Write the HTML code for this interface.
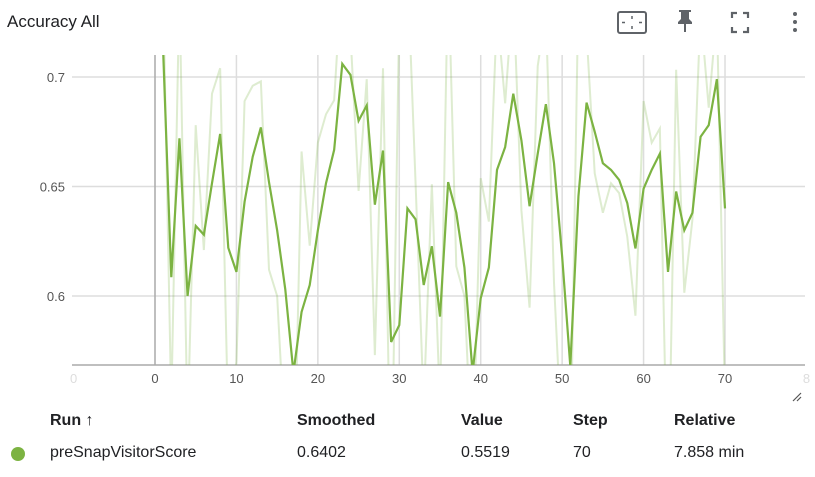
<!DOCTYPE html>
<html style="overflow:hidden;height:477px"><head><meta charset="utf-8"><style>
body{margin:0;width:815px;height:477px;background:#fff;font-family:"Liberation Sans",sans-serif;color:#202124;overflow:hidden;position:relative}
.abs{position:absolute}
.th{position:absolute;top:411px;font-size:16px;font-weight:bold;line-height:20px}
.td{position:absolute;top:443px;font-size:16px;line-height:20px}
</style></head><body>
<div class="abs" style="left:7px;top:12px;font-size:17px;line-height:20px">Accuracy All</div>
<svg class="abs" style="left:0;top:0" width="815" height="45">
<g stroke="#5f6368" fill="none" stroke-width="2"><rect x="618" y="12" width="28" height="21" rx="2"/><path d="M632 16v3M632 26v3M622 22.5h3M639 22.5h3" stroke-width="1.5"/></g>
<g fill="#5f6368"><path d="M679 10h12v2h-2v7l3 3v2h-6v8h-2v-8h-6v-2l3-3v-7h-2z"/></g>
<g stroke="#5f6368" stroke-width="2.2" fill="none"><path d="M732 18v-5h5M743 13h5v5M748 27v5h-5M737 32h-5v-5"/></g>
<g fill="#5f6368"><circle cx="795" cy="14" r="2"/><circle cx="795" cy="22" r="2"/><circle cx="795" cy="30" r="2"/></g>
</svg>
<svg id="chart" class="abs" style="left:0;top:0" width="815" height="400"></svg>
<svg class="abs" style="left:790px;top:390px" width="14" height="14"><path d="M3 11L11 3M7 11L11 7" stroke="#555" stroke-width="1.2"/></svg>
<div class="th" style="left:50px">Run ↑</div>
<div class="th" style="left:297px">Smoothed</div>
<div class="th" style="left:461px">Value</div>
<div class="th" style="left:573px">Step</div>
<div class="th" style="left:674px">Relative</div>
<div class="abs" style="left:11px;top:447px;width:14px;height:14px;border-radius:50%;background:#7cb342"></div>
<div class="td" style="left:50px">preSnapVisitorScore</div>
<div class="td" style="left:297px">0.6402</div>
<div class="td" style="left:461px">0.5519</div>
<div class="td" style="left:573px">70</div>
<div class="td" style="left:674px">7.858 min</div>
<script>
const xTicks=[-10,0,10,20,30,40,50,60,70,80];
const yTicks=[0.6,0.65,0.7];
const yTickLabels=["0.6","0.65","0.7"];
const smoothed=[0.75,0.712,0.6086,0.672,0.600,0.632,0.628,0.6515,0.674,0.622,0.611,0.643,0.6636,0.677,0.652,0.630,0.603,0.565,0.5927,0.605,0.630,0.6515,0.6667,0.706,0.701,0.680,0.687,0.6417,0.6664,0.579,0.5867,0.640,0.635,0.605,0.6227,0.5906,0.652,0.638,0.613,0.565,0.599,0.613,0.6576,0.668,0.6924,0.671,0.641,0.665,0.6876,0.6606,0.618,0.568,0.6455,0.6883,0.675,0.6606,0.6576,0.653,0.6424,0.6217,0.649,0.6576,0.665,0.611,0.6477,0.630,0.638,0.6727,0.678,0.699,0.640];
const raw=[0.75,0.74,0.55,0.74,0.54,0.678,0.621,0.6924,0.704,0.54,0.57,0.689,0.696,0.698,0.612,0.60,0.53,0.50,0.666,0.623,0.670,0.683,0.6894,0.75,0.72,0.648,0.699,0.573,0.704,0.50,0.73,0.75,0.6515,0.55,0.651,0.55,0.75,0.6136,0.60,0.52,0.6538,0.634,0.73,0.688,0.74,0.639,0.5947,0.705,0.73,0.606,0.53,0.52,0.74,0.72,0.656,0.638,0.6515,0.647,0.627,0.591,0.689,0.670,0.6765,0.50,0.7033,0.6015,0.635,0.73,0.686,0.73,0.5519];
const L=72,R=805,T=55,B=365;
const xs=v=>155+(v)*8.143;
const ys=v=>77+(0.7-v)*2190;
const svg=document.getElementById('chart');const NS='http://www.w3.org/2000/svg';
function mk(t,a){const e=document.createElementNS(NS,t);for(const k in a)e.setAttribute(k,a[k]);svg.appendChild(e);return e;}
const cp=mk('clipPath',{id:'cp'});const r=document.createElementNS(NS,'rect');r.setAttribute('x',L);r.setAttribute('y',T);r.setAttribute('width',R-L);r.setAttribute('height',B-T);cp.appendChild(r);
yTicks.forEach((v,i)=>{const g=mk('line',{x1:L,x2:R,y1:ys(v),y2:ys(v),stroke:'#ddd','stroke-width':1.5});


const t=mk('text',{x:65,y:ys(v)+5,'text-anchor':'end','font-size':13,fill:'#555'});t.textContent=yTickLabels[i];

});
xTicks.forEach(v=>{const x=xs(v);const inR=x>L+3&&x<R;
if(inR){const g=mk('line',{x1:x,x2:x,y1:T,y2:B,stroke:v===0?'#aaa':'#ddd','stroke-width':1.5});

}
const t=mk('text',{x:x,y:383,'text-anchor':'middle','font-size':13,fill:(v<0||v>70)?'#ddd':'#555'});t.textContent=String(v<0?0:v===80?8:v);

});
const ax=mk('line',{x1:L,x2:R,y1:B,y2:B,stroke:'#aaa','stroke-width':1.5});


const p1=mk('polyline',{points:raw.map((v,i)=>xs(i)+','+ys(v)).join(' '),fill:'none',stroke:'#7cb342','stroke-opacity':0.25,'stroke-width':2,'clip-path':'url(#cp)'});


const p2=mk('polyline',{points:smoothed.map((v,i)=>xs(i)+','+ys(v)).join(' '),fill:'none',stroke:'#7cb342','stroke-width':2.2,'clip-path':'url(#cp)'});


</script>
</body></html>
